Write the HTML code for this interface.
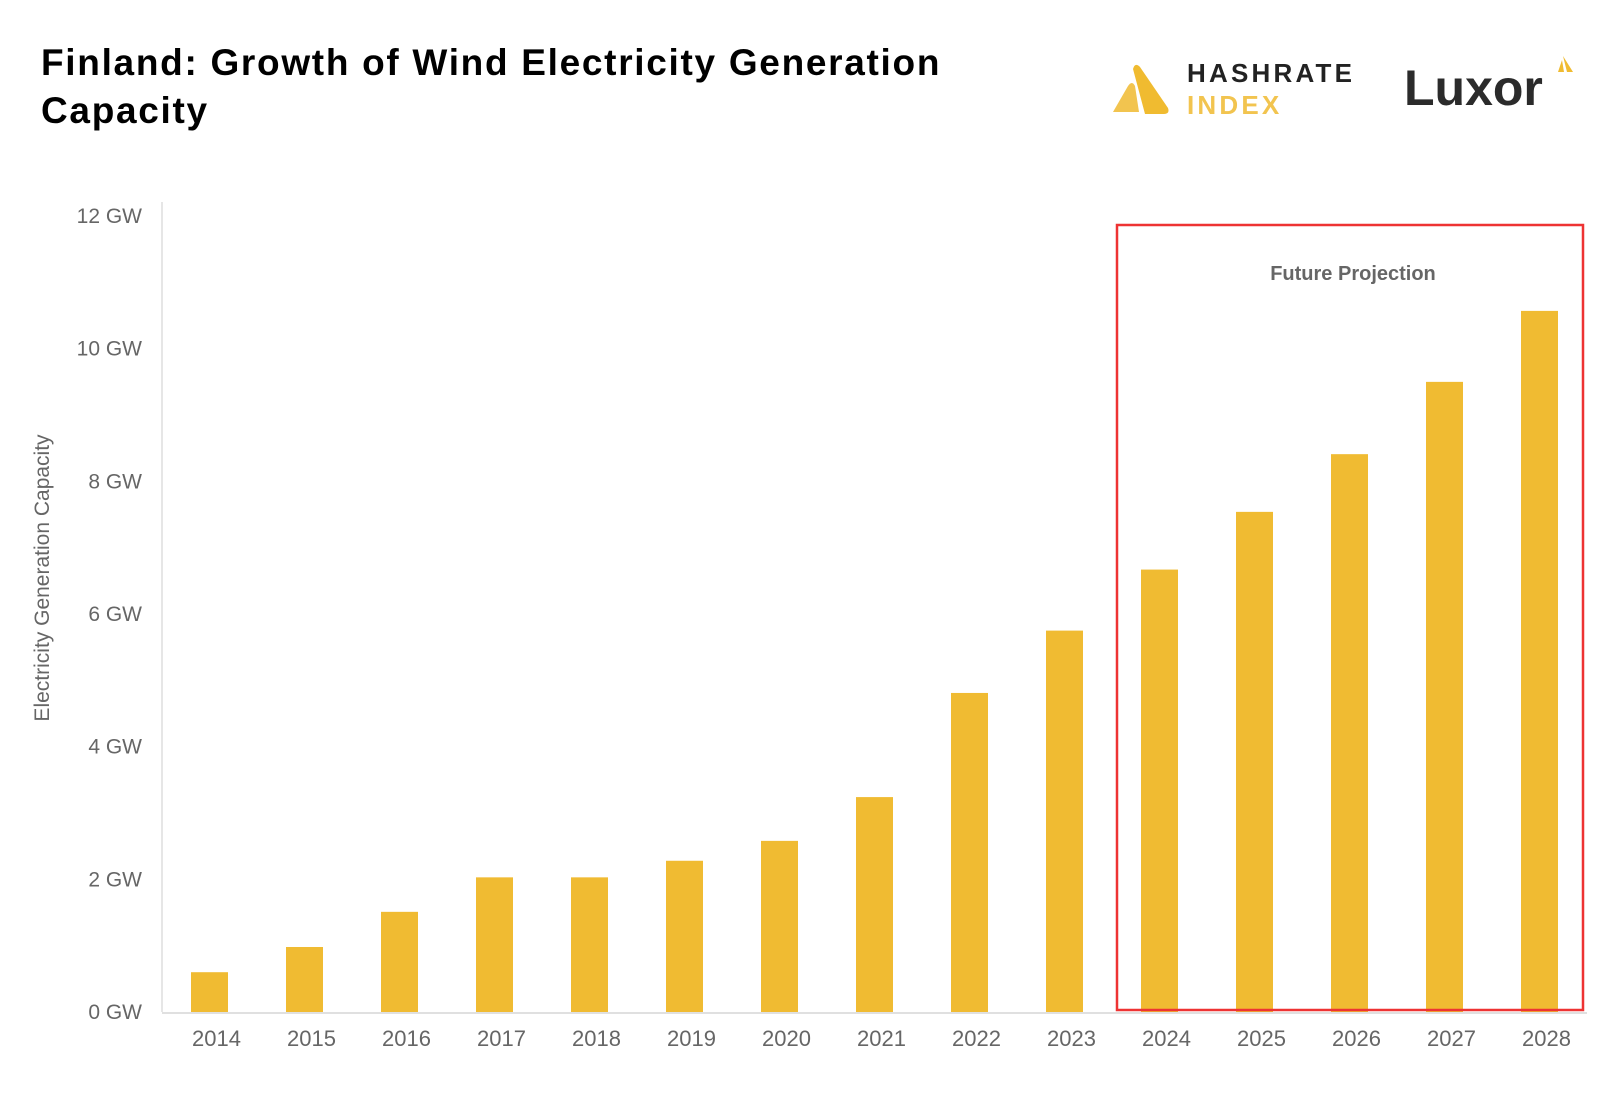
<!DOCTYPE html>
<html><head><meta charset="utf-8"><style>
body{margin:0;background:#fff;}
svg{display:block;font-family:"Liberation Sans",sans-serif;}
</style></head><body>
<svg id="chart" width="1624" height="1093" viewBox="0 0 1624 1093">
<text x="41" y="75" font-size="37" font-weight="bold" fill="#000" letter-spacing="1.7"><tspan x="41" y="75">Finland: Growth of Wind Electricity Generation</tspan><tspan x="41" y="123">Capacity</tspan></text>
<g>
<path d="M1113,112 L1128,86 Q1132,80 1135,86 L1139,112 Z" fill="#f2c44f"/>
<path d="M1133,69 Q1135,62 1140,67 L1168,108 Q1170,114 1164,114 L1145,114 Z" fill="#f0bb30"/>
<text x="1187" y="82" font-size="26" font-weight="bold" fill="#222" letter-spacing="3.2">HASHRATE</text>
<text x="1187" y="114" font-size="26" font-weight="bold" fill="#f2c44f" letter-spacing="3.2">INDEX</text>
</g>
<g>
<text x="1404" y="105" font-size="50" font-weight="bold" fill="#2b2b2b">Luxor</text>
<path d="M1558,72 L1562,60 L1564,72 Z M1563,56 L1573,72 L1567,72 Z" fill="#f0bb30"/>
</g>
<g id="yaxis"></g>
<g id="bars"></g>
<g id="xaxis"></g>
<text transform="translate(49,578) rotate(-90)" text-anchor="middle" font-size="21" fill="#666">Electricity Generation Capacity</text>
<rect x="1117" y="225" width="466" height="785" fill="none" stroke="#ee3333" stroke-width="2.5"/>
<text x="1353" y="280" text-anchor="middle" font-size="20" font-weight="bold" fill="#666">Future Projection</text>
</svg>
<script>
const categories = ["2014","2015","2016","2017","2018","2019","2020","2021","2022","2023","2024","2025","2026","2027","2028"];
const values = [0.6,0.98,1.51,2.03,2.03,2.28,2.58,3.24,4.81,5.75,6.67,7.54,8.41,9.5,10.57];
const yTicks = [0,2,4,6,8,10,12];
const yTickLabels = ["0 GW","2 GW","4 GW","6 GW","8 GW","10 GW","12 GW"];
const NS="http://www.w3.org/2000/svg";
const plotL=162,plotR=1587,plotB=1012,pxPerUnit=66.33;
const band=(plotR-plotL)/categories.length;
const xC=i=>plotL+band*(i+0.5);
const y=v=>plotB-v*pxPerUnit;
const yg=document.getElementById('yaxis'),bg=document.getElementById('bars'),xg=document.getElementById('xaxis');
function mk(tag,attrs,parent){const e=document.createElementNS(NS,tag);for(const k in attrs)e.setAttribute(k,attrs[k]);parent.appendChild(e);return e;}
const vline=mk('line',{x1:plotL,x2:plotL,y1:202,y2:plotB,stroke:'#e6e6e6','stroke-width':2},yg);


yTicks.forEach((t,i)=>{
 const tx=mk('text',{x:142,y:y(t)+7,'text-anchor':'end','font-size':21,fill:'#666'},yg);
 tx.textContent=yTickLabels[i];
 
 
});
values.forEach((v,i)=>{
 const r=mk('rect',{x:xC(i)-18.5,y:y(v),width:37,height:v*pxPerUnit,fill:'#f0bb32'},bg);
 
 
});
const bl=mk('line',{x1:plotL,x2:plotR,y1:plotB+1,y2:plotB+1,stroke:'#e0e0e0','stroke-width':2},xg);


categories.forEach((c,i)=>{
 const tx=mk('text',{x:xC(i)+7,y:1046,'text-anchor':'middle','font-size':22,fill:'#666'},xg);
 tx.textContent=c;
 
 
});
</script>
</body></html>
